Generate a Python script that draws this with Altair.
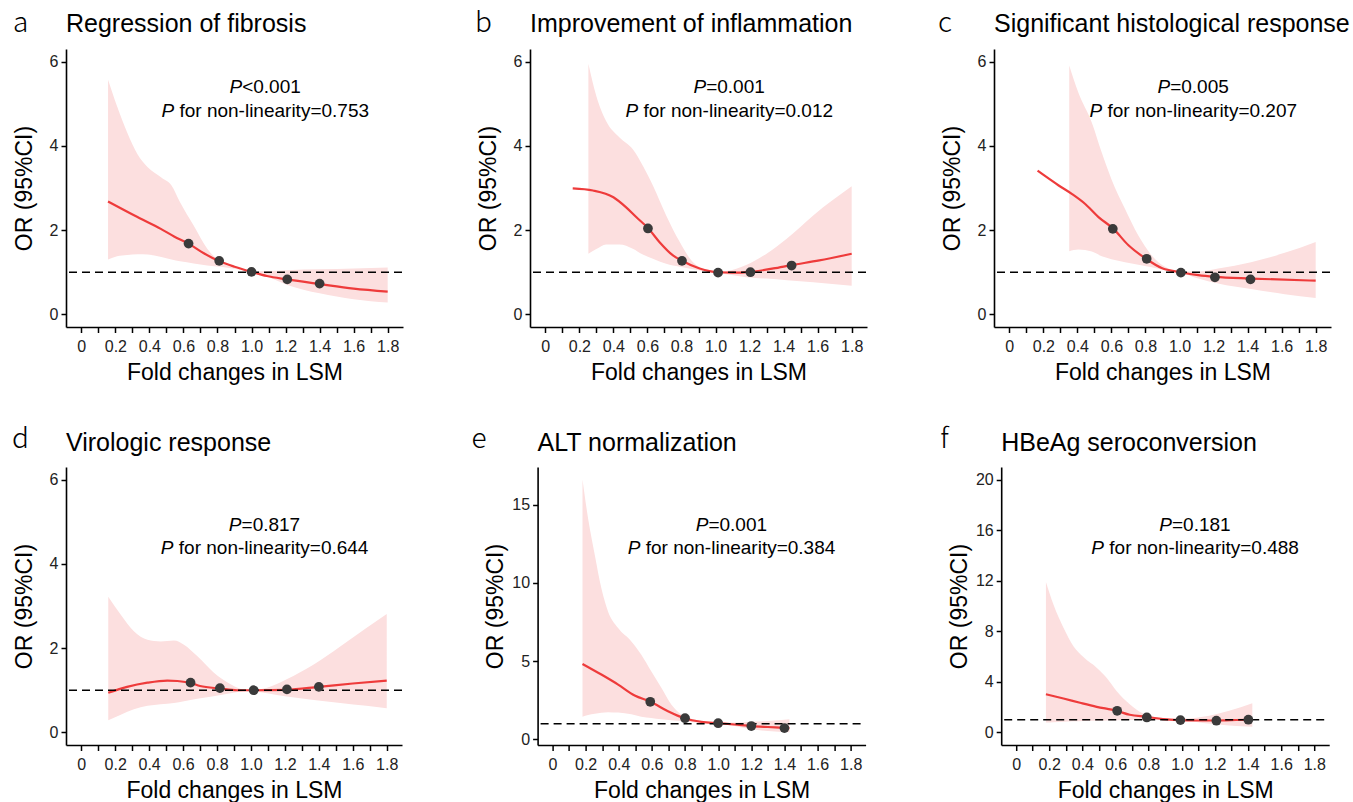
import altair as alt
import pandas as pd

FONT = "Liberation Sans"
LETTER_FONT = "Noto Sans CJK SC"
BAND_COLOR = "#FCDFDF"
LINE_COLOR = "#EE3B3B"
POINT_COLOR = "#3A3A3A"

LETTERS = ["a", "b", "c", "d", "e", "f"]
TITLES = ["Regression of fibrosis", "Improvement of inflammation",
          "Significant histological response", "Virologic response",
          "ALT normalization", "HBeAg seroconversion"]
P_OVERALL = ["<0.001", "=0.001", "=0.005", "=0.817", "=0.001", "=0.181"]
P_NONLIN = ["=0.753", "=0.012", "=0.207", "=0.644", "=0.384", "=0.488"]
X_TICKS = [0, 0.1, 0.2, 0.3, 0.4, 0.5, 0.6, 0.7, 0.8, 0.9, 1.0,
           1.1, 1.2, 1.3, 1.4, 1.5, 1.6, 1.7, 1.8]
X_DOMAIN = [-0.09, 1.89]
Y_TICKS = [[0, 2, 4, 6], [0, 2, 4, 6], [0, 2, 4, 6], [0, 2, 4, 6],
           [0, 5, 10, 15], [0, 4, 8, 12, 16, 20]]
Y_DOMAINS = [[-0.3, 6.3], [-0.3, 6.3], [-0.3, 6.3], [-0.3, 6.3],
             [-0.36, 17.4], [-1.0, 21.0]]

# ---- a: Regression of fibrosis
A_BAND_X = [0.157, 0.21, 0.27, 0.33, 0.39, 0.47, 0.53, 0.58, 0.66, 0.74, 0.82, 0.90, 1.00, 1.10, 1.21, 1.40, 1.60, 1.80]
A_BAND_HI = [5.57, 4.94, 4.31, 3.80, 3.49, 3.25, 3.06, 2.66, 2.11, 1.56, 1.24, 1.10, 1.02, 1.03, 1.05, 1.07, 1.09, 1.11]
A_BAND_LO = [1.30, 1.38, 1.41, 1.43, 1.42, 1.36, 1.30, 1.26, 1.21, 1.16, 1.13, 1.08, 1.00, 0.88, 0.70, 0.50, 0.36, 0.28]
A_LINE_X = [0.157, 0.33, 0.467, 0.545, 0.63, 0.72, 0.806, 0.90, 1.00, 1.09, 1.21, 1.40, 1.60, 1.80]
A_LINE_Y = [2.68, 2.31, 2.03, 1.85, 1.68, 1.45, 1.27, 1.13, 1.01, 0.91, 0.83, 0.72, 0.61, 0.54]
A_PTS_X = [0.63, 0.81, 1.00, 1.21, 1.40]
A_PTS_Y = [1.68, 1.27, 1.01, 0.83, 0.73]

# ---- b: Improvement of inflammation
B_BAND_X = [0.253, 0.30, 0.357, 0.436, 0.514, 0.573, 0.632, 0.71, 0.79, 0.868, 0.985, 1.064, 1.18, 1.30, 1.42, 1.574, 1.80]
B_BAND_HI = [5.95, 5.18, 4.59, 4.20, 3.92, 3.53, 3.06, 2.35, 1.72, 1.24, 1.02, 1.03, 1.17, 1.44, 1.80, 2.35, 3.04]
B_BAND_LO = [1.44, 1.55, 1.66, 1.66, 1.56, 1.42, 1.32, 1.20, 1.13, 1.07, 0.99, 0.95, 0.88, 0.85, 0.81, 0.76, 0.68]
B_LINE_X = [0.161, 0.28, 0.40, 0.475, 0.534, 0.603, 0.67, 0.75, 0.80, 0.907, 1.015, 1.10, 1.205, 1.34, 1.447, 1.61, 1.80]
B_LINE_Y = [2.99, 2.94, 2.78, 2.54, 2.31, 2.05, 1.72, 1.40, 1.28, 1.09, 1.00, 0.99, 1.01, 1.09, 1.17, 1.28, 1.44]
B_PTS_X = [0.603, 0.803, 1.015, 1.205, 1.447]
B_PTS_Y = [2.04, 1.27, 0.99, 1.00, 1.16]

# ---- c: Significant histological response
C_BAND_X = [0.352, 0.406, 0.485, 0.543, 0.60, 0.68, 0.758, 0.836, 0.915, 1.006, 1.11, 1.227, 1.42, 1.618, 1.80]
C_BAND_HI = [5.91, 5.26, 4.55, 3.84, 3.21, 2.50, 1.87, 1.40, 1.13, 1.02, 1.02, 1.09, 1.24, 1.46, 1.72]
C_BAND_LO = [1.50, 1.54, 1.49, 1.38, 1.31, 1.24, 1.18, 1.12, 1.05, 0.99, 0.85, 0.73, 0.60, 0.48, 0.39]
C_LINE_X = [0.166, 0.29, 0.367, 0.446, 0.524, 0.612, 0.70, 0.803, 0.895, 1.006, 1.11, 1.208, 1.419, 1.80]
C_LINE_Y = [3.41, 3.06, 2.86, 2.62, 2.31, 2.03, 1.64, 1.32, 1.10, 1.00, 0.93, 0.89, 0.85, 0.80]
C_PTS_X = [0.608, 0.807, 1.008, 1.208, 1.417]
C_PTS_Y = [2.03, 1.32, 0.99, 0.88, 0.83]

# ---- d: Virologic response
D_BAND_X = [0.159, 0.233, 0.31, 0.39, 0.468, 0.546, 0.605, 0.683, 0.78, 0.88, 0.977, 1.095, 1.21, 1.37, 1.526, 1.68, 1.80]
D_BAND_HI = [3.22, 2.79, 2.40, 2.20, 2.16, 2.18, 2.08, 1.81, 1.42, 1.14, 1.00, 1.06, 1.26, 1.61, 2.04, 2.48, 2.81]
D_BAND_LO = [0.29, 0.42, 0.55, 0.63, 0.67, 0.70, 0.74, 0.80, 0.86, 0.93, 0.98, 0.93, 0.85, 0.77, 0.70, 0.63, 0.57]
D_LINE_X = [0.159, 0.27, 0.39, 0.507, 0.566, 0.648, 0.70, 0.82, 0.918, 1.01, 1.21, 1.40, 1.60, 1.80]
D_LINE_Y = [0.94, 1.08, 1.18, 1.23, 1.22, 1.17, 1.10, 1.04, 1.00, 1.00, 1.01, 1.08, 1.16, 1.23]
D_PTS_X = [0.644, 0.817, 1.016, 1.212, 1.40]
D_PTS_Y = [1.18, 1.05, 1.00, 1.02, 1.08]

# ---- e: ALT normalization
E_BAND_X = [0.181, 0.215, 0.255, 0.295, 0.335, 0.396, 0.476, 0.536, 0.596, 0.657, 0.717, 0.777, 0.857, 0.958, 1.004, 1.10, 1.199, 1.30, 1.43]
E_BAND_HI = [16.6, 14.1, 11.8, 9.65, 8.17, 7.11, 6.26, 5.41, 4.35, 3.29, 2.23, 1.59, 1.27, 1.10, 1.04, 1.07, 1.12, 1.18, 1.29]
E_BAND_LO = [1.44, 1.55, 1.63, 1.70, 1.74, 1.71, 1.60, 1.45, 1.37, 1.28, 1.22, 1.17, 1.10, 1.04, 1.02, 0.85, 0.64, 0.53, 0.45]
E_LINE_X = [0.181, 0.295, 0.396, 0.496, 0.592, 0.697, 0.797, 0.898, 1.004, 1.098, 1.20, 1.30, 1.396, 1.43]
E_LINE_Y = [4.82, 4.14, 3.50, 2.80, 2.40, 1.80, 1.35, 1.12, 1.03, 0.95, 0.85, 0.79, 0.74, 0.72]
E_PTS_X = [0.59, 0.80, 1.00, 1.20, 1.40]
E_PTS_Y = [2.40, 1.35, 1.03, 0.85, 0.72]

# ---- f: HBeAg seroconversion
F_BAND_X = [0.18, 0.226, 0.286, 0.346, 0.406, 0.486, 0.546, 0.606, 0.686, 0.766, 0.886, 0.98, 1.126, 1.286, 1.426]
F_BAND_HI = [11.9, 10.1, 8.27, 6.82, 5.96, 5.12, 4.33, 3.28, 2.23, 1.50, 1.13, 1.05, 1.23, 1.71, 2.31]
F_BAND_LO = [0.79, 0.81, 0.84, 0.87, 0.90, 0.92, 0.94, 0.96, 0.97, 0.97, 0.97, 0.95, 0.75, 0.55, 0.45]
F_LINE_X = [0.18, 0.286, 0.386, 0.486, 0.606, 0.686, 0.786, 0.886, 0.98, 1.086, 1.198, 1.396, 1.426]
F_LINE_Y = [3.02, 2.68, 2.34, 2.02, 1.71, 1.39, 1.23, 1.05, 0.97, 0.94, 0.94, 1.00, 1.00]
F_PTS_X = [0.61, 0.789, 0.992, 1.209, 1.402]
F_PTS_Y = [1.71, 1.18, 0.97, 0.92, 1.00]

# layout (pixels)
WIDTHS = [337, 337, 337, 336, 328, 328]
HEIGHT = 278
LETTER_DX = [-53, -55, -56, -54, -66, -61]
ANNOT_X = 1.08


def panel(i, bx, blo, bhi, lx, ly, px, py):
    W = WIDTHS[i]
    row = 0 if i < 3 else 1
    xs = alt.Scale(domain=X_DOMAIN, nice=False, zero=False)
    ys = alt.Scale(domain=Y_DOMAINS[i], nice=False, zero=False)
    xaxis = alt.Axis(
        values=X_TICKS,
        labelExpr="datum.value == 0 ? '0' : (round(datum.value * 10) % 2 == 0 ? format(datum.value, '.1f') : '')",
        grid=False, domainColor="black", domainWidth=1.6, tickColor="black",
        tickWidth=1.5, tickSize=5.5, labelFont=FONT, labelFontSize=16,
        labelColor="#222222", labelPadding=6, labelOverlap=False, labelFlush=False,
        labelBound=False, titleFont=FONT, titleFontSize=23, titleFontWeight="normal",
        titleColor="black", titleX=W / 2, titleY=52, titleAlign="center",
        titleBaseline="alphabetic")
    yaxis = alt.Axis(
        values=Y_TICKS[i], format="d", grid=False, domainColor="black",
        domainWidth=1.6, tickColor="black", tickWidth=1.5, tickSize=5,
        labelFont=FONT, labelFontSize=16, labelColor="#222222", labelPadding=3,
        labelOverlap=False, labelFlush=False, labelBound=False, titleFont=FONT,
        titleFontSize=23, titleFontWeight="normal", titleColor="black",
        titleAngle=270, titleX=-35, titleY=HEIGHT / 2, titleAlign="center",
        titleBaseline="alphabetic")
    X = alt.X("x:Q", scale=xs, axis=xaxis, title="Fold changes in LSM")

    band = alt.Chart(pd.DataFrame({"x": bx, "lo": blo, "hi": bhi})).mark_area(
        color=BAND_COLOR, opacity=1, interpolate="monotone").encode(
        x=X, y=alt.Y("lo:Q", scale=ys, axis=yaxis, title="OR (95%CI)"), y2="hi:Q")
    line = alt.Chart(pd.DataFrame({"x": lx, "y": ly})).mark_line(
        color=LINE_COLOR, strokeWidth=2.2, interpolate="monotone").encode(
        x=X, y=alt.Y("y:Q", scale=ys, axis=yaxis, title="OR (95%CI)"))
    rule = alt.Chart(pd.DataFrame({"y": [1.0]})).mark_rule(
        color="black", strokeWidth=1.6, strokeDash=[8, 5]).encode(
        y=alt.Y("y:Q", scale=ys, axis=yaxis, title="OR (95%CI)"),
        x=alt.value(3), x2=alt.value(W))
    pts = alt.Chart(pd.DataFrame({"x": px, "y": py})).mark_circle(
        color=POINT_COLOR, size=95, opacity=1).encode(
        x=X, y=alt.Y("y:Q", scale=ys, axis=yaxis, title="OR (95%CI)"))

    def txt(t, x, y, **kw):
        return alt.Chart(pd.DataFrame({"t": [t]})).mark_text(**kw).encode(
            text="t:N", x=alt.value(x), y=alt.value(y))

    title_y = -17 if row == 0 else -16
    letter_y = -17 if row == 0 else -19
    a1 = 44 if row == 0 else 64
    a2 = 68 if row == 0 else 87
    cx = (ANNOT_X - X_DOMAIN[0]) / (X_DOMAIN[1] - X_DOMAIN[0]) * W
    s1 = cx - 23
    s2 = cx - 91
    space = 5.3

    letter = txt(LETTERS[i], LETTER_DX[i], letter_y, font=LETTER_FONT, fontSize=28,
                 fontWeight=300, align="left", baseline="alphabetic", color="black")
    title = txt(TITLES[i], 0, title_y, font=FONT, fontSize=25, align="left",
                baseline="alphabetic", color="black")
    p1a = txt("P", s1, a1, font=FONT, fontSize=19, fontStyle="italic", align="right",
              baseline="alphabetic", color="black")
    p1b = txt(P_OVERALL[i], s1, a1, font=FONT, fontSize=19, align="left",
              baseline="alphabetic", color="black")
    p2a = txt("P", s2, a2, font=FONT, fontSize=19, fontStyle="italic", align="right",
              baseline="alphabetic", color="black")
    p2b = txt("for non-linearity" + P_NONLIN[i], s2 + space, a2, font=FONT, fontSize=19,
              align="left", baseline="alphabetic", color="black")

    return alt.layer(band, line, rule, pts, letter, title, p1a, p1b, p2a, p2b).properties(
        width=W, height=HEIGHT)


pa = panel(0, A_BAND_X, A_BAND_LO, A_BAND_HI, A_LINE_X, A_LINE_Y, A_PTS_X, A_PTS_Y)
pb = panel(1, B_BAND_X, B_BAND_LO, B_BAND_HI, B_LINE_X, B_LINE_Y, B_PTS_X, B_PTS_Y)
pc = panel(2, C_BAND_X, C_BAND_LO, C_BAND_HI, C_LINE_X, C_LINE_Y, C_PTS_X, C_PTS_Y)
pd_ = panel(3, D_BAND_X, D_BAND_LO, D_BAND_HI, D_LINE_X, D_LINE_Y, D_PTS_X, D_PTS_Y)
pe = panel(4, E_BAND_X, E_BAND_LO, E_BAND_HI, E_LINE_X, E_LINE_Y, E_PTS_X, E_PTS_Y)
pf = panel(5, F_BAND_X, F_BAND_LO, F_BAND_HI, F_LINE_X, F_LINE_Y, F_PTS_X, F_PTS_Y)

row1 = alt.hconcat(pa, pb, pc, spacing=127, bounds="flush")
row2 = alt.hconcat(pd_, pe, pf, spacing=135.6, bounds="flush")

chart = alt.vconcat(row1, row2, spacing=42).configure_view(stroke=None).properties(
    padding={"left": 12, "top": 10, "right": 2, "bottom": 2}, background="white")

chart.save("out.html", embed_options={"renderer": "svg", "actions": False})
